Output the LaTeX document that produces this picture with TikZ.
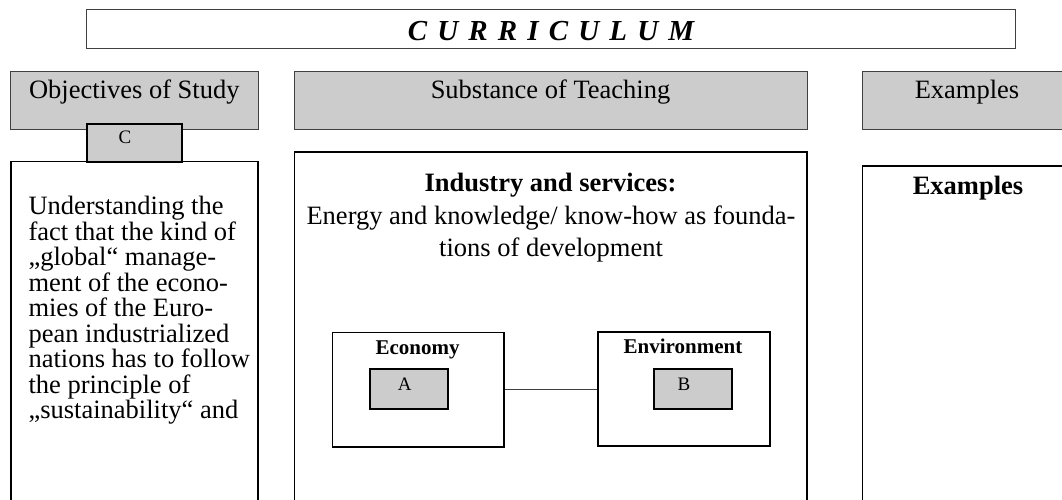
\documentclass[tikz,border=0pt]{standalone}
\usepackage{fontspec}
\setmainfont{Liberation Serif}
\definecolor{panelgrey}{HTML}{CCCCCC}
\definecolor{rulegrey}{HTML}{404040}
\newcommand{\tsp}{\hspace{0.35em}}
\begin{document}
\begin{tikzpicture}[x=1pt,y=-1pt,
  titlebox/.style={draw=rulegrey, line width=1pt},
  headbox/.style={draw=rulegrey, fill=panelgrey, line width=1pt},
  bodybox/.style={draw=black, line width=1.6pt},
  tagbox/.style={draw=black, fill=panelgrey, line width=2pt},
  innerbox/.style={draw=black, line width=1.6pt},
  txt/.style={inner sep=0pt, anchor=base, font=\fontsize{26.5}{26.5}\selectfont},
  btxt/.style={txt, font=\fontsize{26.5}{26.5}\selectfont\bfseries},
  small/.style={inner sep=0pt, anchor=base, font=\fontsize{21}{21}\selectfont\bfseries},
  tag/.style={inner sep=0pt, anchor=base, font=\fontsize{19}{19}\selectfont},
  bodyline/.style={inner sep=0pt, anchor=base west, font=\fontsize{26.5}{26.5}\selectfont}
]
\useasboundingbox (0,0) rectangle (1062,500);
\clip (0,0) rectangle (1062,500);

% title bar
\draw[titlebox] (86.5,9.5) rectangle (1015,48.5);
\node[inner sep=0pt, anchor=base, font=\fontsize{29}{29}\selectfont\bfseries\itshape] (title) at (551,40.7)
  {C\tsp U\tsp R\tsp R\tsp I\tsp C\tsp U\tsp L\tsp U\tsp M};

% column headers
\draw[headbox] (10.7,71.7) rectangle (258,129.3);
\draw[headbox] (294,71.7) rectangle (807,129.3);
\draw[headbox] (862,71.7) rectangle (1075,129.3);
\node[txt] (h1) at (134.3,99) {Objectives of Study};
\node[txt] (h2) at (550.5,99) {Substance of Teaching};
\node[txt] (h3) at (967,99) {Examples};

% column bodies
\draw[bodybox] (11,161.5) rectangle (258,520);
\draw[bodybox] (294.3,152) rectangle (807,520);
\draw[bodybox] (862.5,166) rectangle (1075,520);

% tag C between header and body of the first column
\node[tagbox, minimum width=95pt, minimum height=37.5pt, inner sep=0pt] (tagC) at (134.5,143) {};
\node[tag] (labC) at (125,143.3) {C};

% first column text
\node[bodyline] (l1) at (28.3,214.5) {Understanding the};
\node[bodyline] (l2) at (28.3,240) {fact that the kind of};
\node[bodyline] (l3) at (28.3,265.5) {„global“ manage-};
\node[bodyline] (l4) at (28.3,291) {ment of the econo-};
\node[bodyline] (l5) at (28.3,316.5) {mies of the Euro-};
\node[bodyline] (l6) at (28.3,342) {pean industrialized};
\node[bodyline] (l7) at (28.3,367.5) {nations has to follow};
\node[bodyline] (l8) at (28.3,393) {the principle of};
\node[bodyline] (l9) at (28.3,418.5) {„sustainability“ and};

% second column text
\node[btxt] (ind) at (550.5,191) {Industry and services:};
\node[txt] (en1) at (551,224) {Energy and knowledge/ know-how as founda-};
\node[txt] (en2) at (551,256.5) {tions of development};

% economy / environment
\node[innerbox, minimum width=171.7pt, minimum height=114.4pt, inner sep=0pt] (eco) at (418.2,389.5) {};
\node[innerbox, minimum width=172.3pt, minimum height=114pt, inner sep=0pt] (env) at (683.9,388.7) {};
\node[small] (ecoT) at (417.5,354) {Economy};
\node[small] (envT) at (683,353.3) {Environment};
\node[tagbox, minimum width=77.7pt, minimum height=39.7pt, inner sep=0pt] (tagA) at (408.8,389.2) {};
\node[tagbox, minimum width=77.4pt, minimum height=39.7pt, inner sep=0pt] (tagB) at (693,389.2) {};
\node[tag] (labA) at (404.8,390) {A};
\node[tag] (labB) at (684,390) {B};
\draw[rulegrey, line width=1pt] (eco.east) -- (eco.east -| env.west);

% third column text
\node[btxt] (ex) at (968,194) {Examples};
\end{tikzpicture}
\end{document}
